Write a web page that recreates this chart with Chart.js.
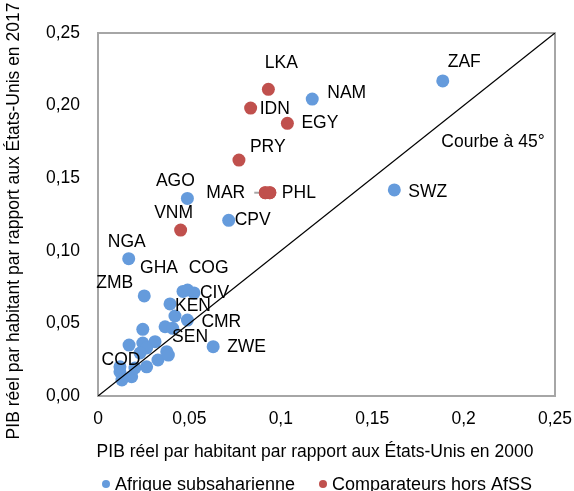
<!DOCTYPE html>
<html>
<head>
<meta charset="utf-8">
<script src="https://cdn.jsdelivr.net/npm/chart.js@4.4.1/dist/chart.umd.min.js"></script>
<style>
  html, body { margin: 0; padding: 0; background: #ffffff; }
  #wrap { width: 574px; height: 491px; position: relative; }
</style>
</head>
<body>
<div id="wrap"><canvas id="c" width="574" height="491"></canvas></div>
<script>
// ---- Data ----
const ssaCodes = ['ZAF','NAM','SWZ','AGO','CPV','NGA','ZMB','GHA','COG','CIV','KEN','CMR','SEN','ZWE','COD',
  '','','','','','','','','','','','','','','',''];
const ssaX = [0.1886,0.1172,0.1621,0.0489,0.0715,0.0168,0.0253,0.0465,0.0490,0.0525,0.0394,0.0489,0.0367,0.0630,0.0120,
  0.0421,0.0409,0.0245,0.0170,0.0245,0.0312,0.0266,0.0230,0.0376,0.0328,0.0184,0.0120,0.0266,0.0202,0.0131,0.0385];
const ssaY = [0.2170,0.2045,0.1419,0.1361,0.1210,0.0946,0.0689,0.0720,0.0730,0.0710,0.0634,0.0523,0.0477,0.0340,0.0167,
  0.0551,0.0466,0.0459,0.0351,0.0365,0.0374,0.0331,0.0296,0.0305,0.0248,0.0133,0.0201,0.0201,0.0193,0.0110,0.0282];

const compCodes = ['LKA','IDN','EGY','PRY','PHL','MAR','VNM'];
const compX = [0.0932,0.0835,0.1036,0.0771,0.0940,0.0915,0.0452];
const compY = [0.2112,0.1983,0.1878,0.1625,0.1400,0.1400,0.1143];

const diagX = [0, 0.25];
const diagY = [0, 0.25];

const xTickLabels = ['0','0,05','0,1','0,15','0,2','0,25'];
const yTickLabels = ['0,00','0,05','0,10','0,15','0,20','0,25'];

const seriesNames = ['Afrique subsaharienne','Comparateurs hors AfSS'];
const xTitle = 'PIB réel par habitant par rapport aux États-Unis en 2000';
const yTitle = 'PIB réel par habitant par rapport aux États-Unis en 2017';
const diagLabel = 'Courbe à 45°';

// ---- Label placement (style) ----
const labelPlace = {
  ZAF:['left',5,-19], NAM:['left',15,-6], SWZ:['left',14,2], AGO:['center',-12,-17],
  CPV:['left',6,0], NGA:['center',-2,-16], ZMB:['right',-11,-13], GHA:['center',-24,-23],
  COG:['center',21,-22], CIV:['left',6,0], KEN:['left',5,2], CMR:['left',14,2],
  SEN:['left',7,10], ZWE:['left',14,1], COD:['center',1,-12],
  LKA:['center',13,-26], IDN:['left',9,1], EGY:['left',14,0], PRY:['left',11,-13],
  PHL:['left',12,0], MAR:['right',-20,0], VNM:['center',-7,-17]
};

const FONT = "'Liberation Sans', Arial, sans-serif";
const FS = 17.5;
const BLUE = '#659BDC';
const RED = '#C0504D';

const toPts = (xs, ys) => xs.map((x, i) => ({x: x, y: ys[i]}));

const decor = {
  id: 'decor',
  beforeDatasetsDraw(chart) {
    const {ctx, chartArea: a} = chart;
    ctx.save();
    ctx.strokeStyle = '#A6A6A6';
    ctx.lineWidth = 2;
    ctx.strokeRect(a.left, a.top, a.right - a.left, a.bottom - a.top);
    ctx.restore();
  },
  afterDatasetsDraw(chart) {
    const {ctx, chartArea: a} = chart;
    const xs = chart.scales.x, ys = chart.scales.y;
    ctx.save();
    ctx.font = FS + 'px ' + FONT;
    ctx.fillStyle = '#000';
    ctx.textBaseline = 'middle';
    const drawSet = (codes, xv, yv) => {
      codes.forEach((c, i) => {
        if (!c) return;
        const p = labelPlace[c] || ['left', 8, 0];
        const px = xs.getPixelForValue(xv[i]);
        const py = ys.getPixelForValue(yv[i]);
        ctx.textAlign = p[0];
        ctx.fillText(c, px + p[1], py + p[2]);
        if (c === 'MAR') {
          ctx.save();
          ctx.strokeStyle = '#A6A6A6';
          ctx.lineWidth = 2;
          ctx.beginPath();
          ctx.moveTo(px + p[1] + 9, py);
          ctx.lineTo(px, py);
          ctx.stroke();
          ctx.restore();
        }
      });
    };
    drawSet(ssaCodes, ssaX, ssaY);
    drawSet(compCodes, compX, compY);
    ctx.fillStyle = RED;
    ['MAR','PHL'].forEach(c => {
      const i = compCodes.indexOf(c);
      ctx.beginPath();
      ctx.arc(xs.getPixelForValue(compX[i]), ys.getPixelForValue(compY[i]), 6.5, 0, Math.PI * 2);
      ctx.fill();
    });
    ctx.fillStyle = '#000';
    ctx.textAlign = 'center';
    ctx.fillText(diagLabel, 493, 142);
    ctx.fillText(xTitle, 315, 452);
    ctx.save();
    ctx.translate(14, 221);
    ctx.rotate(-Math.PI / 2);
    ctx.fillText(yTitle, 0, 0);
    ctx.restore();
    // legend
    ctx.font = '18px ' + FONT;
    ctx.textAlign = 'left';
    ctx.textBaseline = 'alphabetic';
    const leg = [[106, BLUE, seriesNames[0]], [323, RED, seriesNames[1]]];
    leg.forEach(l => {
      ctx.fillStyle = l[1];
      ctx.beginPath();
      ctx.arc(l[0], 484, 4, 0, Math.PI * 2);
      ctx.fill();
      ctx.fillStyle = '#000';
      ctx.fillText(l[2], l[0] + 9, 490);
    });
    ctx.restore();
  }
};

new Chart(document.getElementById('c'), {
  type: 'scatter',
  data: {
    datasets: [
      { type: 'line', label: 'diag', data: toPts(diagX, diagY), borderColor: '#000', borderWidth: 1.3,
        pointRadius: 0, fill: false, order: 0 },
      { label: seriesNames[0], data: toPts(ssaX, ssaY), backgroundColor: BLUE, borderWidth: 0,
        pointRadius: 6.5, pointHoverRadius: 6.5, order: 2 },
      { label: seriesNames[1], data: toPts(compX, compY), backgroundColor: RED, borderWidth: 0,
        pointRadius: 6.5, pointHoverRadius: 6.5, order: 1 }
    ]
  },
  options: {
    responsive: false,
    animation: false,
    events: [],
    layout: { padding: { top: 33, right: 19, left: 0, bottom: 0 } },
    plugins: { legend: { display: false }, tooltip: { enabled: false } },
    scales: {
      x: {
        type: 'linear', min: 0, max: 0.25,
        grid: { display: false, drawTicks: false },
        border: { display: false },
        afterBuildTicks(s) { s.ticks = xTickLabels.map((t, i) => ({value: i * 0.05})); },
        afterFit(s) { s.height = 95; s.paddingLeft = 0; s.paddingRight = 0; },
        ticks: {
          padding: 13, color: '#000', font: { size: FS, family: FONT },
          maxRotation: 0, autoSkip: false,
          callback: (v, i) => xTickLabels[i]
        }
      },
      y: {
        type: 'linear', min: 0, max: 0.25,
        grid: { display: false, drawTicks: false },
        border: { display: false },
        afterBuildTicks(s) { s.ticks = yTickLabels.map((t, i) => ({value: i * 0.05})); },
        afterFit(s) { s.width = 98; s.paddingTop = 0; s.paddingBottom = 0; },
        ticks: {
          padding: 18, color: '#000', font: { size: FS, family: FONT },
          autoSkip: false,
          callback: (v, i) => yTickLabels[i]
        }
      }
    }
  },
  plugins: [decor]
});
</script>
</body>
</html>
